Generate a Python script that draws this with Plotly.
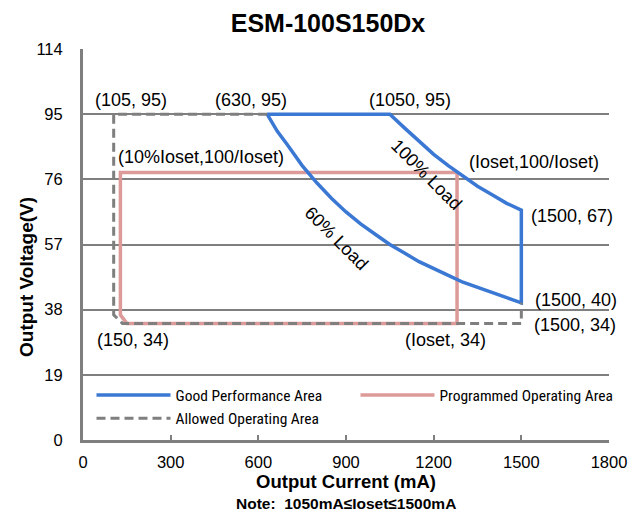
import plotly.graph_objects as go

# ---- data ----
good_x = [630, 1050, 1100, 1150, 1200, 1250, 1300, 1350, 1400, 1450, 1500,
          1500, 1450, 1400, 1350, 1300, 1250, 1200, 1150, 1100, 1050, 1000, 950, 900, 850, 800, 750, 700, 665, 630]
good_y = [95, 95, 91, 87, 83.3, 80, 77, 74, 71.5, 69, 67,
          40, 41.5, 43, 44.5, 46, 48, 50, 52, 54.5, 57, 60, 63, 66.5, 70.5, 75, 80, 86, 90, 95]

prog_x = [1280, 128, 128, 150, 1280, 1280]
prog_y = [78, 78, 36.5, 34, 34, 78]

allowed_x = [630, 105, 105, 135, 1500, 1500]
allowed_y = [95, 95, 36.5, 34, 34, 40]

x_ticks = [0, 300, 600, 900, 1200, 1500, 1800]
y_ticks = [0, 19, 38, 57, 76, 95, 114]

labels = [
    ("(105, 95)", 33, 99.1, "left", 0),
    ("(630, 95)", 445, 99.1, "left", 0),
    ("(1050, 95)", 972, 99.1, "left", 0),
    ("(10%Ioset,100/Ioset)", 113, 82.5, "left", 0),
    ("(Ioset,100/Ioset)", 1314, 81, "left", 0),
    ("(1500, 67)", 1526, 65.3, "left", 0),
    ("(1500, 40)", 1540, 40.8, "left", 0),
    ("(1500, 34)", 1537, 33.5, "left", 0),
    ("(150, 34)", 41, 29.2, "left", 0),
    ("(Ioset, 34)", 1095, 29.2, "left", 0),
    ("100% Load", 1177, 77.3, "center", 45),
    ("60% Load", 866, 58.9, "center", 45),
]

BLUE = "#3A78D4"
PINK = "#DC9A98"
GRAY = "#7F7F7F"
FONT = "Liberation Sans, Arial, sans-serif"
NARROW = "Liberation Sans Narrow, Roboto Condensed, Liberation Sans, sans-serif"

W, H = 628, 511
L, T, PW, PH = 75, 41, 526, 391
fig = go.Figure()
fig.add_trace(go.Scatter(x=prog_x, y=prog_y, mode="lines", name="Programmed Operating Area",
                         line=dict(color=PINK, width=3.5), legendrank=2))
fig.add_trace(go.Scatter(x=good_x, y=good_y, mode="lines", name="Good Performance Area",
                         line=dict(color=BLUE, width=3.5), legendrank=1))
fig.add_trace(go.Scatter(x=allowed_x, y=allowed_y, mode="lines", name="Allowed Operating Area",
                         line=dict(color=GRAY, width=3, dash="9px,5px"), legendrank=3))

for text, x, y, anchor, ang in labels:
    fig.add_annotation(x=x, y=y, text=text, showarrow=False, xanchor=anchor, yanchor="middle",
                       textangle=ang, font=dict(family=FONT, size=18, color="#000000"))

# y axis title (placed as in the reference, below the plot centre)
fig.add_annotation(xref="paper", yref="paper", x=(18 - L) / PW, y=(T + PH - 269) / PH,
                   xanchor="center", yanchor="middle", textangle=-90, showarrow=False,
                   text="<b>Output Voltage(V)</b>", font=dict(family=FONT, size=19, color="#000000"))

fig.add_annotation(xref="paper", yref="paper", x=0.5, y=(T + PH - 495) / PH, yanchor="middle",
                   text="<b>Note:  1050mA≤Ioset≤1500mA</b>", showarrow=False,
                   font=dict(family=FONT, size=15.5, color="#000000"))

fig.update_layout(
    width=W, height=H,
    margin=dict(l=L, r=W - L - PW, t=T, b=H - T - PH),
    paper_bgcolor="white", plot_bgcolor="white",
    font=dict(family=FONT, color="#000000"),
    title=dict(text="<b>ESM-100S150Dx</b>", x=320 / W, xref="container", xanchor="center",
               y=1 - 15 / H, yref="container", yanchor="middle",
               font=dict(family=FONT, size=25, color="#000000")),
    showlegend=True,
    legend=dict(orientation="h", x=(83.5 - L) / PW, y=(T + PH - 370.5) / PH,
                xanchor="left", yanchor="top",
                bgcolor="rgba(0,0,0,0)", font=dict(family=NARROW, size=15.5, color="#000000"),
                itemwidth=74, entrywidth=175, tracegroupgap=0),
)
fig.update_xaxes(range=[0, 1800], tickvals=x_ticks, ticktext=[str(v) for v in x_ticks],
                 showgrid=False, zeroline=False, showline=True, linecolor=GRAY, linewidth=3,
                 ticks="inside", ticklen=5, tickwidth=2, tickcolor=GRAY,
                 tickfont=dict(family=FONT, size=16.5, color="#000000"), ticklabelstandoff=5,
                 automargin=False,
                 title=dict(text="<b>Output Current (mA)</b>", standoff=6,
                            font=dict(family=FONT, size=18.5, color="#000000")))
fig.update_yaxes(range=[0, 114], tickvals=y_ticks, ticktext=[str(v) for v in y_ticks],
                 showgrid=True, gridcolor=GRAY, gridwidth=2, zeroline=False,
                 showline=True, linecolor=GRAY, linewidth=3, ticks="",
                 tickfont=dict(family=FONT, size=16.5, color="#000000"), ticklabelstandoff=14,
                 automargin=False)

fig.write_html("out.html")
